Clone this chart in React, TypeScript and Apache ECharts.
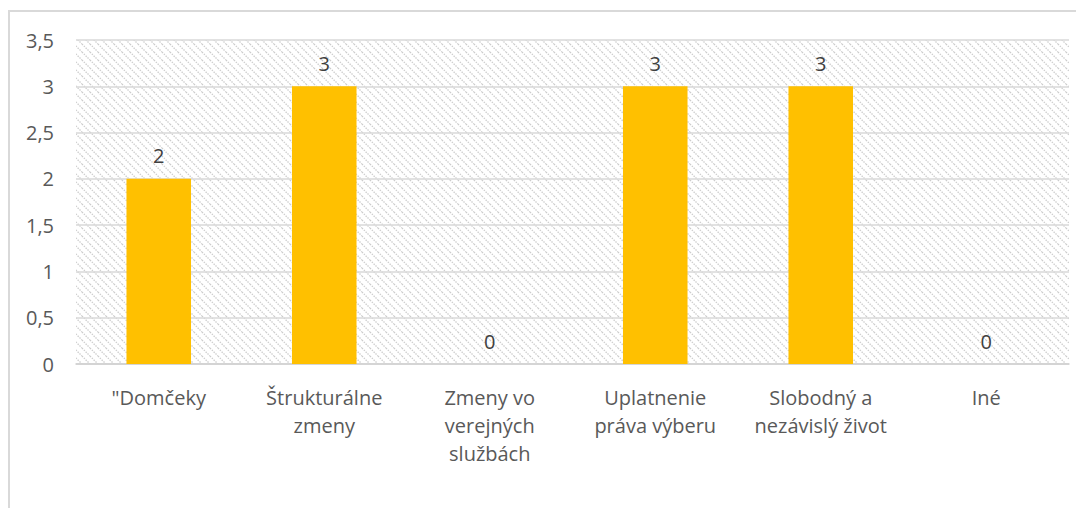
import React, { useEffect, useRef } from "react";
import * as echarts from "echarts";

const categories = [
  '"Domčeky',
  "Štrukturálne\nzmeny",
  "Zmeny vo\nverejných\nslužbách",
  "Uplatnenie\npráva výberu",
  "Slobodný a\nnezávislý život",
  "Iné",
];
const values = [2, 3, 0, 3, 3, 0];
const yMin = 0;
const yMax = 3.5;
const yStep = 0.5;

const patternSvg =
  '<svg xmlns="http://www.w3.org/2000/svg" width="8" height="8">' +
  '<rect width="8" height="8" fill="#ffffff"/>' +
  '<path d="M-2,6 L2,10 M0,0 L8,8 M6,-2 L10,2" stroke="#cccccc" stroke-width="1.3" stroke-dasharray="1.4 1.2"/>' +
  "</svg>";
const patternUrl = "data:image/svg+xml;base64," + btoa(patternSvg);

export default function App() {
  const ref = useRef<HTMLDivElement>(null);
  useEffect(() => {
    if (!ref.current) return;
    const chart = echarts.init(ref.current, null, { renderer: "svg" });
    const font = "'Open Sans', 'Noto Sans', sans-serif";
    chart.setOption({
      animation: false,
      backgroundColor: "#ffffff",
      textStyle: { fontFamily: font },
      grid: {
        left: 66,
        right: 7,
        top: 28,
        bottom: 144,
        show: true,
        borderWidth: 0,
        backgroundColor: {
          image: patternUrl,
          repeat: "repeat",
          imageWidth: 8,
          imageHeight: 8,
        } as any,
      },
      xAxis: {
        type: "category",
        data: categories,
        axisLine: { show: true, lineStyle: { color: "#d0d0d0", width: 1.5 } },
        axisTick: { show: false },
        axisLabel: {
          color: "#595959",
          fontSize: 20,
          lineHeight: 28,
          margin: 19,
          interval: 0,
          fontFamily: font,
        },
      },
      yAxis: {
        type: "value",
        min: yMin,
        max: yMax,
        interval: yStep,
        axisLine: { show: false },
        axisTick: { show: false },
        splitLine: { lineStyle: { color: "#d9d9d9", width: 1.5 } },
        axisLabel: {
          color: "#595959",
          fontSize: 20,
          margin: 22,
          fontFamily: font,
          formatter: (v: number) => String(v).replace(".", ","),
        },
      },
      series: [
        {
          type: "bar",
          data: values,
          barWidth: "39%",
          itemStyle: {
            color: "#FFC000",
            borderWidth: 0,
          },
          label: {
            show: true,
            position: "top",
            distance: 13,
            color: "#404040",
            fontSize: 20,
            fontFamily: font,
          },
        },
      ],
    });
    return () => chart.dispose();
  }, []);
  return (
    <div
      style={{
        position: "absolute",
        left: 8,
        top: 10,
        width: 1068,
        height: 498,
        borderLeft: "2px solid #d9d9d9",
        borderTop: "2px solid #d9d9d9",
        boxSizing: "border-box",
        overflow: "hidden",
      }}
    >
      <div ref={ref} style={{ width: 1066, height: 496 }} />
    </div>
  );
}
